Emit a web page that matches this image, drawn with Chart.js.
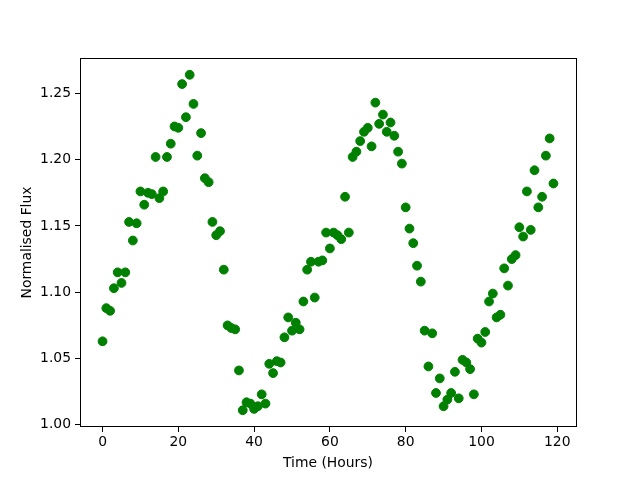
<!DOCTYPE html>
<html>
<head>
<meta charset="utf-8">
<script src="https://cdn.jsdelivr.net/npm/chart.js@4.4.0/dist/chart.umd.min.js"></script>
<style>
  html, body { margin: 0; padding: 0; background: #fff; }
  #wrap { width: 640px; height: 480px; }
</style>
</head>
<body>
<div id="wrap"><canvas id="fluxChart" width="640" height="480"></canvas></div>
<script>
// hourly samples
const horas = Array.from({ length: 120 }, (_, i) => i);
const flujo = [
  1.063, 1.088, 1.086, 1.103, 1.115, 1.107, 1.115, 1.153, 1.139, 1.152,
  1.176, 1.166, 1.175, 1.174, 1.202, 1.171, 1.176, 1.202, 1.212, 1.225,
  1.224, 1.257, 1.232, 1.264, 1.242, 1.203, 1.220, 1.186, 1.183, 1.153,
  1.143, 1.146, 1.117, 1.075, 1.073, 1.072, 1.041, 1.011, 1.017, 1.016,
  1.012, 1.014, 1.023, 1.016, 1.046, 1.039, 1.048, 1.047, 1.066, 1.081,
  1.071, 1.077, 1.072, 1.093, 1.117, 1.123, 1.096, 1.123, 1.124, 1.145,
  1.133, 1.145, 1.143, 1.140, 1.172, 1.145, 1.202, 1.206, 1.214, 1.221,
  1.224, 1.210, 1.243, 1.227, 1.234, 1.221, 1.228, 1.218, 1.206, 1.197,
  1.164, 1.148, 1.137, 1.120, 1.108, 1.071, 1.044, 1.069, 1.024, 1.035,
  1.014, 1.019, 1.024, 1.040, 1.020, 1.049, 1.047, 1.042, 1.023, 1.065,
  1.062, 1.070, 1.093, 1.099, 1.081, 1.083, 1.118, 1.105, 1.125, 1.128,
  1.149, 1.142, 1.176, 1.147, 1.192, 1.164, 1.172, 1.203, 1.216, 1.182
];
const xTicks = [0, 20, 40, 60, 80, 100, 120];
const yTicks = [1.00, 1.05, 1.10, 1.15, 1.20, 1.25];

// matplotlib style 5% margins
function limites(vals) {
  const min = Math.min(...vals), max = Math.max(...vals);
  const m = (max - min) * 0.05;
  return { min: min - m, max: max + m };
}
const limX = limites(horas);
const limY = limites(flujo);

const fuente = { family: 'DejaVu Sans', size: 13.9 };

const marco = {
  id: 'marco',
  afterDraw(chart) {
    const { ctx, chartArea: a } = chart;
    ctx.save();
    ctx.strokeStyle = '#000';
    ctx.lineWidth = 1;
    ctx.strokeRect(Math.round(a.left) + 0.5, Math.round(a.top) + 0.5,
      Math.round(a.right - a.left), Math.round(a.bottom - a.top) - 1);
    ctx.restore();
  }
};

const ctx = document.getElementById('fluxChart').getContext('2d');
new Chart(ctx, {
  type: 'scatter',
  data: {
    datasets: [{
      data: horas.map((h, i) => ({ x: h, y: flujo[i] })),
      backgroundColor: '#008000',
      borderColor: '#008000',
      borderWidth: 1,
      pointRadius: 4.4,
      pointHoverRadius: 4.4
    }]
  },
  options: {
    responsive: false,
    animation: false,
    events: [],
    layout: { padding: { left: 0, top: 58, right: 64, bottom: 0 } },
    plugins: { legend: { display: false }, tooltip: { enabled: false } },
    scales: {
      x: {
        type: 'linear',
        min: limX.min,
        max: limX.max,
        afterBuildTicks: s => { s.ticks = xTicks.map(v => ({ value: v })); },
        afterFit: s => { s.height = 53; },
        grid: { drawOnChartArea: false, drawTicks: true, tickLength: 5, color: '#000' },
        border: { display: false },
        ticks: { color: '#000', font: fuente, padding: 2, maxRotation: 0 },
        title: { display: true, text: 'Time (Hours)', color: '#000', font: fuente, padding: { top: 0, bottom: 8.7 } }
      },
      y: {
        type: 'linear',
        min: limY.min,
        max: limY.max,
        afterBuildTicks: s => { s.ticks = yTicks.map(v => ({ value: v })); },
        afterFit: s => { s.width = 80; },
        grid: { drawOnChartArea: false, drawTicks: true, tickLength: 5, color: '#000' },
        border: { display: false },
        ticks: { color: '#000', font: fuente, padding: 4, callback: v => v.toFixed(2) },
        title: { display: true, text: 'Normalised Flux', color: '#000', font: fuente, padding: { top: 18.7, bottom: 0 } }
      }
    }
  },
  plugins: [marco]
});
</script>
</body>
</html>
